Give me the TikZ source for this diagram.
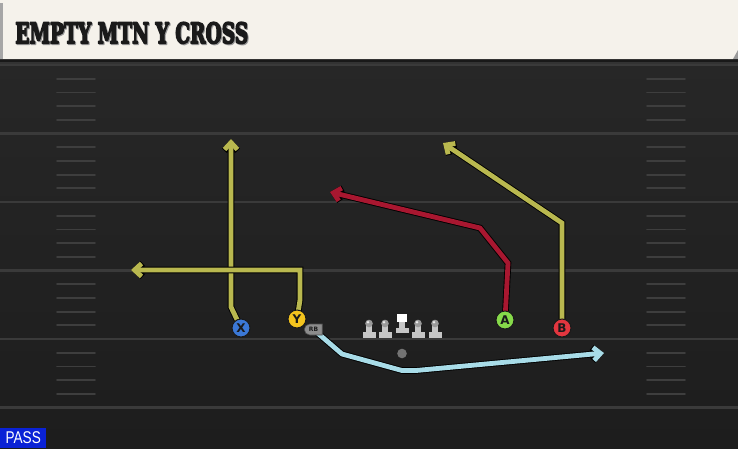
\documentclass[tikz,border=0pt]{standalone}
\usepackage{fontspec}
\usetikzlibrary{arrows.meta,shapes.misc}
\newfontfamily\headfont{DejaVu Serif}
\newfontfamily\lblfont{DejaVu Sans}
\newfontfamily\passfont{Liberation Sans}
\newcommand{\heavytext}[1]{\special{pdf:literal direct 1 j 0.6 w 2 Tr}#1\special{pdf:literal direct 0 Tr}}
\definecolor{cream}{HTML}{F5F2EB}
\definecolor{fieldtop}{HTML}{272727}
\definecolor{fieldbot}{HTML}{1D1D1D}
\definecolor{yardline}{HTML}{3A3A3A}
\definecolor{hashc}{HTML}{3E3E3E}
\definecolor{olive}{HTML}{B9B84F}
\definecolor{routered}{HTML}{A81730}
\definecolor{routeblue}{HTML}{A8DCE8}
\definecolor{xblue}{HTML}{3B78D6}
\definecolor{yyellow}{HTML}{F4C41E}
\definecolor{agreen}{HTML}{86D94A}
\definecolor{bred}{HTML}{E2363F}
\definecolor{passblue}{HTML}{0A22D6}
\definecolor{linemanc}{HTML}{C6C6C6}
\definecolor{headc}{HTML}{9A9A9A}
\definecolor{textdark}{HTML}{1A1A1A}
\pgfdeclarelayer{field}
\pgfdeclarelayer{routes}
\pgfsetlayers{field,routes,main}
\tikzset{
  route/.style={draw=#1, line width=4.8pt, line join=miter, line cap=butt,
    -{Straight Barb[length=7pt,width=13pt]},
    preaction={draw=black, line width=6.6pt, -{Straight Barb[length=7pt,width=13pt]}}},
  player/.style={circle, draw=textdark, line width=1pt, fill=#1, minimum size=18pt,
    inner sep=0pt, font=\lblfont\bfseries\fontsize{12}{12}\selectfont, text=textdark},
  yardl/.style={draw=yardline, line width=2.2pt},
  hashl/.style={draw=hashc, line width=1.8pt, line cap=round},
}
\begin{document}
\begin{tikzpicture}[x=1pt,y=-1pt]
\useasboundingbox (0,0) rectangle (738,448);
\begin{pgfonlayer}{field}
  % field
  \shade[top color=fieldtop, bottom color=fieldbot] (0,59) rectangle (738,448);
  \fill[black!90] (0,59) rectangle (738,62);
  \fill[black!80] (0,62) rectangle (738,65);
  % yard lines
  \foreach \y in {65,133.5,202,270.5,339,407.5}
    \draw[yardl] (0,\y) -- (738,\y);
  % hashes
  \foreach \b in {65,133.5,202,270.5,339}{
    \foreach \k in {1,2,3,4}{
      \draw[hashl] (57,\b+\k*13.7) -- (95,\b+\k*13.7);
      \draw[hashl] (647,\b+\k*13.7) -- (685,\b+\k*13.7);
    }
  }
  % header
  \fill[cream] (0,0) -- (738,0) -- (738,50) -- (733,59) -- (0,59) -- cycle;
  \fill[black!35] (0,3) rectangle (3,59);
  \fill[black!40] (738,50) -- (738,59) -- (733,59) -- cycle;
\end{pgfonlayer}

\node[anchor=north west, inner sep=0pt, text=black!40] (titleshadow) at (16,23)
  {\resizebox{233pt}{21pt}{\headfont\bfseries\heavytext{EMPTY MTN Y CROSS}}};
\node[anchor=north west, inner sep=0pt, text=textdark] (title) at (15,22)
  {\resizebox{233pt}{21pt}{\headfont\bfseries\heavytext{EMPTY MTN Y CROSS}}};

% linemen
\foreach \x in {369,385,418,435}{
  \fill[linemanc] (\x-2.8,324) rectangle (\x+2.8,333);
  \fill[linemanc] (\x-6.5,332) rectangle (\x+6.5,338);
  \fill[headc] (\x,323.5) circle (3.8);
  \fill[white!80!headc] (\x-1,322.3) circle (1.4);
}
\fill[linemanc] (399,321) rectangle (405,328);
\fill[linemanc] (395.5,327.5) rectangle (408.5,332.5);
\fill[white] (397,313.5) rectangle (407,322);
\fill[black!55] (402,353.5) circle (4.8);

% players
\node[player=xblue] (X) at (241,328) {X};
\node[player=yyellow] (Y) at (297,319) {Y};
\node[player=agreen] (A) at (505,320) {A};
\node[player=bred] (B) at (562,328) {B};
\node[rounded rectangle, rounded rectangle right arc=none, fill=black!45, draw=black!70,
  line width=0.6pt, minimum width=18pt, minimum height=11pt, inner sep=0pt,
  font=\lblfont\bfseries\fontsize{6}{6}\selectfont, text=textdark] (RB) at (313.5,329.5) {RB};

% route end points
\coordinate (xb) at (231,307);
\coordinate (xe) at (231,139);
\coordinate (yb) at (300,270);
\coordinate (ye) at (131,270);
\coordinate (ab1) at (508,263);
\coordinate (ab2) at (480,228);
\coordinate (ae) at (330,192);
\coordinate (bb) at (562,223);
\coordinate (be) at (443,143);
\coordinate (r1) at (342,354);
\coordinate (r2) at (402,370.5);
\coordinate (r3) at (416,370.5);
\coordinate (re) at (604,353);

\begin{pgfonlayer}{routes}
  \draw[route=olive] (X.center) -- (xb) -- (xe);
  \draw[route=olive] (Y.center) -- (300,300) -- (yb) -- (ye);
  \draw[route=routered] (A.center) -- (ab1) -- (ab2) -- (ae);
  \draw[route=olive] (B.center) -- (bb) -- (be);
  \draw[route=routeblue] (RB.center) -- (r1) -- (r2) -- (r3) -- (re);
\end{pgfonlayer}

% PASS label
\node[anchor=south west, fill=passblue, minimum width=46pt, minimum height=20pt,
  inner sep=0pt, text=white] (pass) at (0,448)
  {\passfont\fontsize{17}{17}\selectfont\scalebox{0.8}[1]{PASS}};
\end{tikzpicture}
\end{document}
